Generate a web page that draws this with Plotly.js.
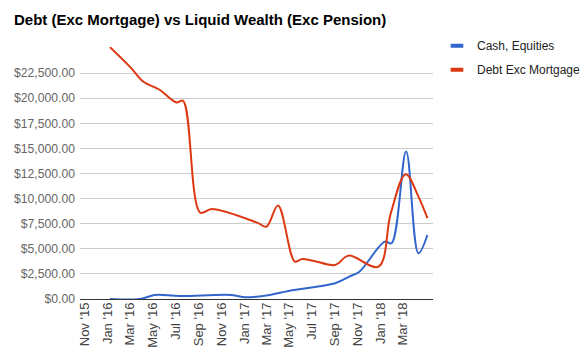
<!DOCTYPE html>
<html>
<head>
<meta charset="utf-8">
<script src="https://cdn.plot.ly/plotly-3.0.1.min.js"></script>
<style>html,body{margin:0;padding:0;background:#fff;}#chart{width:585px;height:362px;}</style>
</head>
<body>
<div id="chart"></div>
<script>
// Debt Exc Mortgage series
var debtDates = ['2016-01-07','2016-03-04','2016-04-05','2016-05-19','2016-07-03','2016-07-21','2016-09-05','2016-10-06','2017-02-04','2017-03-01','2017-04-01','2017-05-16','2017-06-03','2017-07-04','2017-09-01','2017-10-07','2017-12-26','2018-01-28','2018-03-09','2018-04-12','2018-05-06'];
var debtValues = [25095,23000,21665,20840,19570,19740,8600,8970,7610,7210,9320,3720,3970,3820,3390,4320,3220,8540,12430,10200,8050];

// Cash, Equities series
var cashDates = ['2016-01-07','2016-03-28','2016-05-06','2016-07-12','2016-11-28','2017-01-04','2017-03-10','2017-05-02','2017-09-01','2017-10-12','2017-11-05','2018-01-12','2018-01-30','2018-03-10','2018-04-12','2018-05-06'];
var cashValues = [0,0,400,300,400,170,400,830,1565,2290,2720,5710,5550,14690,4560,6380];

var tickDates = ['2015-11-01','2016-01-01','2016-03-01','2016-05-01','2016-07-01','2016-09-01','2016-11-01','2017-01-01','2017-03-01','2017-05-01','2017-07-01','2017-09-01','2017-11-01','2018-01-01','2018-03-01'];
var tickLabels = ["Nov '15","Jan '16","Mar '16","May '16","Jul '16","Sep '16","Nov '16","Jan '17","Mar '17","May '17","Jul '17","Sep '17","Nov '17","Jan '18","Mar '18"];
var yTicks = [0,2500,5000,7500,10000,12500,15000,17500,20000,22500];

var seriesNames = ['Cash, Equities','Debt Exc Mortgage'];
var seriesColors = ['#3366cc','#dc3912'];

var traces = [
  {x: cashDates, y: cashValues, type: 'scatter', mode: 'lines', name: seriesNames[0],
   line: {color: seriesColors[0], width: 2, shape: 'spline', smoothing: 1}, showlegend: false, hoverinfo: 'x+y'},
  {x: debtDates, y: debtValues, type: 'scatter', mode: 'lines', name: seriesNames[1],
   line: {color: seriesColors[1], width: 2, shape: 'spline', smoothing: 1}, showlegend: false, hoverinfo: 'x+y'},
  // legend entries
  {x: [null], y: [null], type: 'scatter', mode: 'markers', name: seriesNames[0], legendgroup: 'a',
   marker: {symbol: 'line-ew', size: 9, line: {color: seriesColors[0], width: 4}}},
  {x: [null], y: [null], type: 'scatter', mode: 'markers', name: seriesNames[1], legendgroup: 'b',
   marker: {symbol: 'line-ew', size: 9, line: {color: seriesColors[1], width: 4}}}
];

var layout = {
  width: 585, height: 362,
  margin: {l: 80, r: 152, t: 47, b: 63, pad: 0},
  paper_bgcolor: '#fff', plot_bgcolor: '#fff',
  font: {family: 'Liberation Sans, Arial, sans-serif', size: 13, color: '#444'},
  title: {text: 'Debt (Exc Mortgage) vs Liquid Wealth (Exc Pension)', x: 14/585, xanchor: 'left', xref: 'container',
          y: 1 - 20/362, yanchor: 'middle', yref: 'container',
          font: {family: 'Liberation Sans, Arial, sans-serif', size: 15, color: '#000', weight: 'bold'}},
  xaxis: {type: 'date', range: ['2015-10-19', '2018-05-21'], tickvals: tickDates, ticktext: tickLabels,
          tickangle: -90, showgrid: false, zeroline: false, showline: false, ticks: '', automargin: false,
          tickfont: {size: 13, color: '#444'}, fixedrange: true},
  yaxis: {range: [0, 25100], tickvals: yTicks, tickformat: '$,.2f', showgrid: true, gridcolor: '#cccccc', gridwidth: 1,
          zeroline: true, zerolinecolor: '#333', zerolinewidth: 1, showline: false, ticks: '', automargin: false,
          tickfont: {size: 12.2, color: '#666'}, ticklabelstandoff: 4, fixedrange: true},
  showlegend: true,
  legend: {x: 437/585, xref: 'container', xanchor: 'left', y: 0.914, yref: 'container', yanchor: 'top',
           traceorder: 'grouped', tracegroupgap: 5,
           font: {size: 12, color: '#222'}, bgcolor: 'rgba(0,0,0,0)', itemwidth: 30}
};

Plotly.newPlot('chart', traces, layout, {displayModeBar: false, staticPlot: true});
</script>
</body>
</html>
